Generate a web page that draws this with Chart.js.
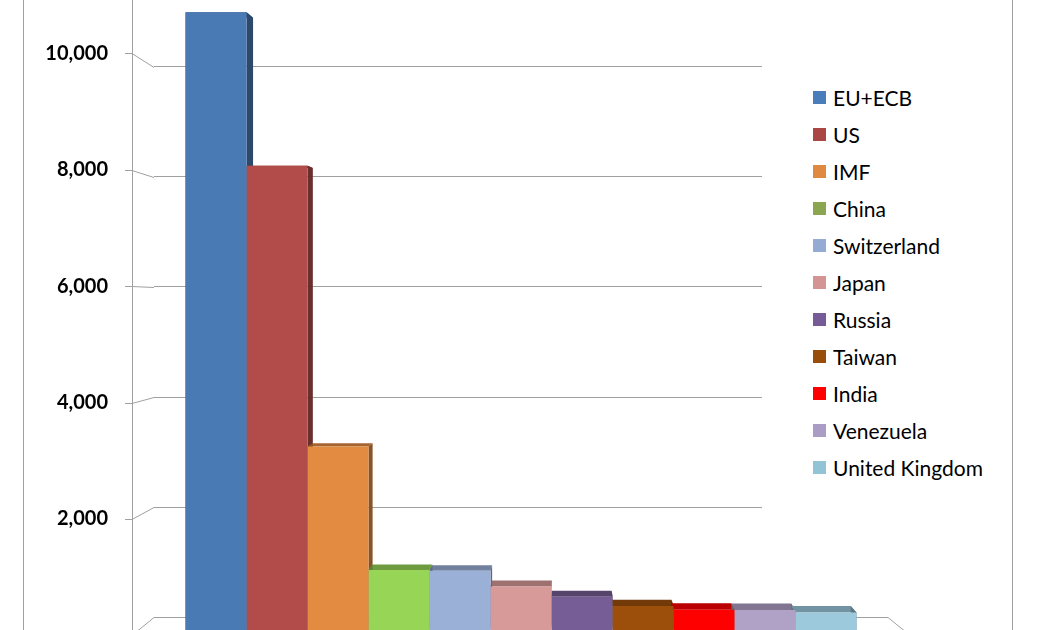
<!DOCTYPE html>
<html>
<head>
<meta charset="utf-8">
<script src="https://cdn.jsdelivr.net/npm/chart.js@4"></script>
<style>
  html, body { margin: 0; padding: 0; background: #fff; overflow: hidden; width: 1047px; height: 630px; }
  #wrap { position: relative; width: 1047px; height: 700px; }
  #frame { position: absolute; left: 23px; top: 0; width: 988px; height: 700px;
           border-left: 1px solid #a0a0a0; border-right: 1px solid #a0a0a0; pointer-events: none; }
  #legend { position: absolute; left: 762px; top: 40px; width: 240px; height: 480px; background: #fff;
            font-family: Lato, sans-serif; font-size: 21px; color: #000; }
  #legend ul { list-style: none; margin: 0; padding: 0; position: absolute; left: 51px; top: 39.3px; }
  #legend li { height: 37px; display: flex; align-items: center; white-space: nowrap; }
  #legend i { display: inline-block; width: 13px; height: 13px; margin-right: 7px; }
</style>
</head>
<body>
<div id="wrap">
  <canvas id="chart" width="1047" height="700"></canvas>
  <div id="frame"></div>
  <div id="legend"><ul id="items"></ul></div>
</div>
<script>
// gold holdings
var countries = ['EU+ECB', 'US', 'IMF', 'China', 'Switzerland', 'Japan', 'Russia', 'Taiwan', 'India', 'Venezuela', 'United Kingdom'];
var reserves = [10830, 8140, 3220, 1054, 1040, 765, 585, 424, 358, 356, 310];
var yTicks = [0, 2000, 4000, 6000, 8000, 10000];

var barColors = ['#4a7ab4', '#b14c4a', '#e38b41', '#97d556', '#9bb0d7', '#d89a98', '#775d95', '#9c4f0b', '#ff0000', '#b0a1c6', '#9ccadc'];
var keyColors = ['#4a7ebb', '#aa4643', '#df8a40', '#8aa650', '#94abd3', '#d39493', '#765b96', '#984d0a', '#ff0000', '#ab9cc5', '#93c4d6'];
var gridColor = '#a0a0a0';

function shade(hex, k) {
  var n = parseInt(hex.slice(1), 16);
  var r = Math.round(((n >> 16) & 255) * k), g = Math.round(((n >> 8) & 255) * k), b = Math.round((n & 255) * k);
  return 'rgb(' + r + ',' + g + ',' + b + ')';
}

// legend
var ul = document.getElementById('items');
countries.forEach(function (c, i) {
  var li = document.createElement('li');
  li.innerHTML = '<i style="background:' + keyColors[i] + '"></i><span>' + c + '</span>';
  ul.appendChild(li);
});

// fake 3d: wall connectors, floor edge and bar side/top faces
var depth = {
  id: 'depth',
  beforeDatasetsDraw: function (chart) {
    var ctx = chart.ctx, area = chart.chartArea, s = chart.scales;
    var ax = area.left - 22;
    ctx.save();
    ctx.strokeStyle = gridColor;
    ctx.lineWidth = 1;
    ctx.beginPath();
    ctx.moveTo(ax + 0.5, 0);
    ctx.lineTo(ax + 0.5, chart.height);
    yTicks.forEach(function (v) {
      var yf = Math.round(s.yFront.getPixelForValue(v)) + 0.5;
      var yb = Math.round(s.yBack.getPixelForValue(v)) + 0.5;
      ctx.moveTo(ax - 7, yf);
      ctx.lineTo(ax, yf);
      ctx.lineTo(area.left, yb);
    });
    ctx.moveTo(area.right, Math.round(s.yBack.getPixelForValue(0)) + 0.5);
    ctx.lineTo(area.right + 22, s.yFront.getPixelForValue(0));
    ctx.stroke();

    var vpX = area.left + 0.57 * (area.right - area.left);
    var vpY = s.yBar.getPixelForValue(6000);
    var f = 0.02;
    function bk(px, py) { return [px + (vpX - px) * f, py + (vpY - py) * f]; }
    function poly(pts, col) {
      ctx.beginPath();
      ctx.moveTo(pts[0][0], pts[0][1]);
      for (var k = 1; k < pts.length; k++) ctx.lineTo(pts[k][0], pts[k][1]);
      ctx.closePath();
      ctx.fillStyle = col;
      ctx.fill();
    }
    chart.data.datasets.forEach(function (ds, i) {
      var bar = chart.getDatasetMeta(i).data[0];
      var p = bar.getProps(['x', 'y', 'base', 'width'], true);
      var l = p.x - p.width / 2, r = p.x + p.width / 2, t = p.y, b = p.base;
      poly([[l, t], [r, t], bk(r, t), bk(l, t)], shade(barColors[i], 0.73));
      poly([[r, t], [r, b], bk(r, b), bk(r, t)], shade(barColors[i], 0.6));
      poly([[l, t], [l, b], bk(l, b), bk(l, t)], shade(barColors[i], 0.6));
    });
    ctx.restore();
  }
};

function fixTicks(scale) {
  scale.ticks = yTicks.map(function (v) { return { value: v }; });
}
function noPad(scale) {
  scale.paddingTop = 0;
  scale.paddingBottom = 0;
}

new Chart(document.getElementById('chart'), {
  type: 'bar',
  data: {
    labels: [''],
    datasets: countries.map(function (c, i) {
      return { label: c, data: [reserves[i]], backgroundColor: barColors[i], borderWidth: 0, yAxisID: 'yBar' };
    })
  },
  options: {
    responsive: false,
    animation: false,
    layout: { autoPadding: false, padding: { left: 0, right: 159, top: 0, bottom: 0 } },
    datasets: { bar: { barPercentage: 1, categoryPercentage: 0.914 } },
    plugins: { legend: { display: false }, tooltip: { enabled: false } },
    scales: {
      x: { display: false },
      yBar: { type: 'linear', display: false, min: -1223, max: 11043 },
      yFront: {
        type: 'linear', position: 'left', min: -1110, max: 10918,
        grid: { display: false, drawTicks: false },
        border: { display: false },
        afterBuildTicks: fixTicks,
        afterFit: function (sc) { sc.width = 154; noPad(sc); },
        ticks: {
          padding: 46, color: '#000',
          font: { family: 'Lato', size: 20, weight: 'bold' },
          // the 0 label sits below the cropped edge of the picture
          callback: function (v) { return v === 0 ? '' : v.toLocaleString('en-US'); }
        }
      },
      yBack: {
        type: 'linear', position: 'right', min: -1502, max: 11211,
        grid: { color: gridColor, drawTicks: false },
        border: { display: false },
        ticks: { display: false },
        afterBuildTicks: fixTicks,
        afterFit: function (sc) { sc.width = 0; noPad(sc); }
      }
    }
  },
  plugins: [depth]
});
</script>
</body>
</html>
